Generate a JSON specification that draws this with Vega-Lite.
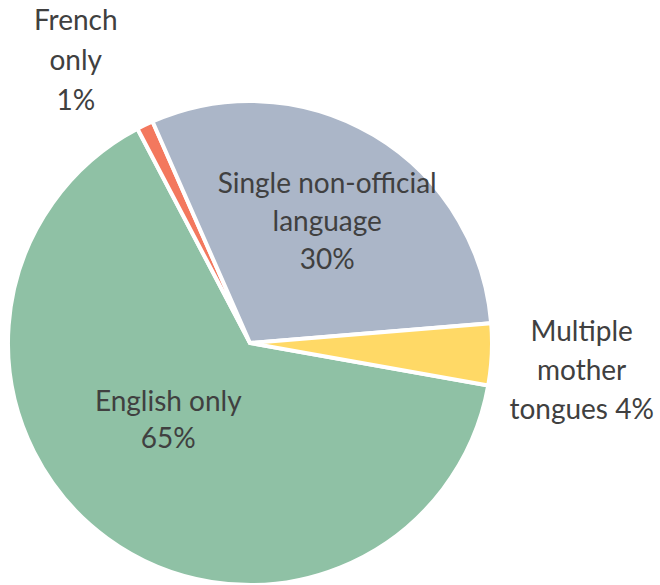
{
  "$schema": "https://vega.github.io/schema/vega-lite/v6.json",
  "width": 484,
  "height": 484,
  "autosize": {"type": "none"},
  "padding": {"left": 8, "top": 101, "right": 168, "bottom": 0},
  "background": "white",
  "config": {"view": {"stroke": null}},
  "data": {
    "values": [
      {"category": "English only", "value": 64.5, "label": "English only\n65%"},
      {"category": "French only", "value": 1.1, "label": "French\nonly\n1%"},
      {"category": "Single non-official language", "value": 30.3, "label": "Single non-official\nlanguage\n30%"},
      {"category": "Multiple mother tongues", "value": 4.1, "label": "Multiple\nmother\ntongues 4%"}
    ]
  },
  "transform": [{"window": [{"op": "row_number", "as": "rank"}]}],
  "encoding": {
    "theta": {"field": "value", "type": "quantitative", "stack": true, "scale": {"range": [1.747, 8.030]}},
    "order": {"field": "rank", "type": "quantitative"}
  },
  "layer": [
    {
      "mark": {"type": "arc", "stroke": "white", "strokeWidth": 4},
      "encoding": {
        "color": {
          "field": "category",
          "type": "nominal",
          "legend": null,
          "scale": {
            "domain": ["English only", "French only", "Single non-official language", "Multiple mother tongues"],
            "range": ["#8FC1A5", "#F3785E", "#ABB6C8", "#FFD966"]
          }
        }
      }
    },
    {
      "mark": {"type": "text", "font": "Lato", "fontSize": 28, "fill": "#404040", "lineBreak": "\n", "lineHeight": 37, "align": "center", "baseline": "middle", "radius": 113, "dx": -15, "dy": -31},
      "encoding": {
        "detail": {"field": "category", "type": "nominal"},
        "text": {"condition": {"test": "datum.category === 'English only'", "field": "label", "type": "nominal"}, "value": ""}
      }
    },
    {
      "mark": {"type": "text", "font": "Lato", "fontSize": 28, "fill": "#404040", "lineBreak": "\n", "lineHeight": 40, "align": "center", "baseline": "middle", "radius": 330, "dx": -31, "dy": -24},
      "encoding": {
        "detail": {"field": "category", "type": "nominal"},
        "text": {"condition": {"test": "datum.category === 'French only'", "field": "label", "type": "nominal"}, "value": ""}
      }
    },
    {
      "mark": {"type": "text", "font": "Lato", "fontSize": 28, "fill": "#404040", "lineBreak": "\n", "lineHeight": 38, "align": "center", "baseline": "middle", "radius": 143, "dx": 4, "dy": -35},
      "encoding": {
        "detail": {"field": "category", "type": "nominal"},
        "text": {"condition": {"test": "datum.category === 'Single non-official language'", "field": "label", "type": "nominal"}, "value": ""}
      }
    },
    {
      "mark": {"type": "text", "font": "Lato", "fontSize": 28, "fill": "#404040", "lineBreak": "\n", "lineHeight": 39, "align": "center", "baseline": "middle", "radius": 332, "dx": 0, "dy": -26},
      "encoding": {
        "detail": {"field": "category", "type": "nominal"},
        "text": {"condition": {"test": "datum.category === 'Multiple mother tongues'", "field": "label", "type": "nominal"}, "value": ""}
      }
    }
  ]
}
